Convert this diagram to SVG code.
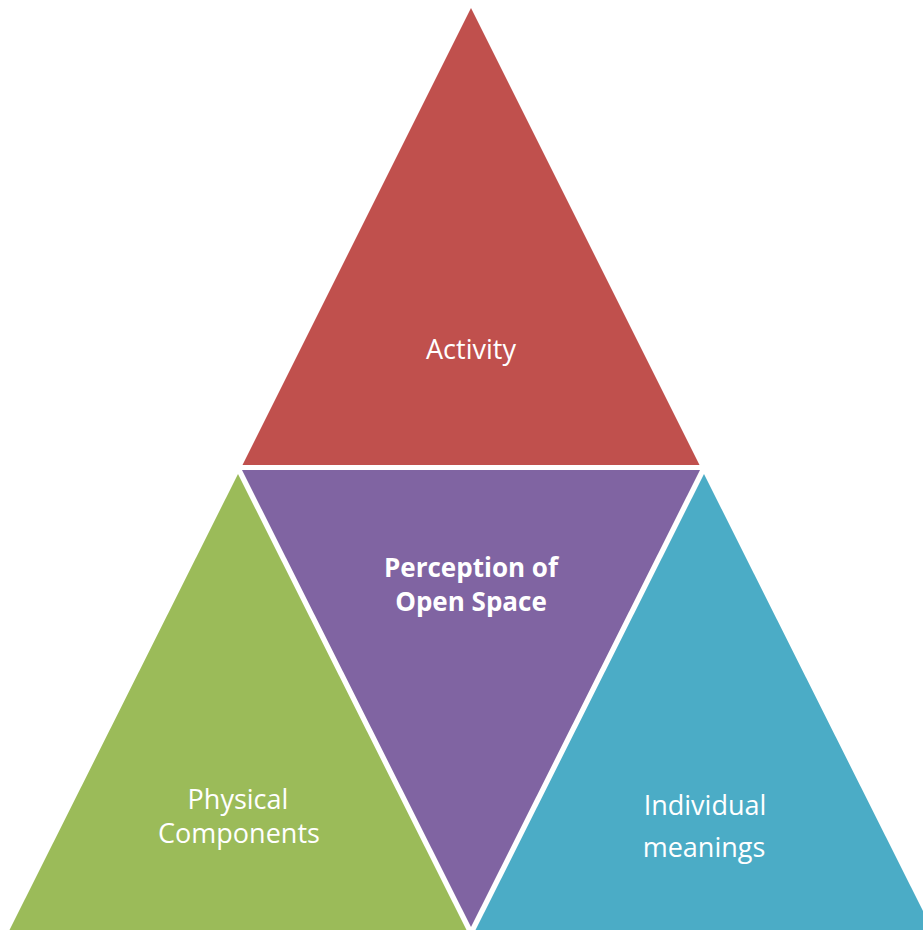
<svg xmlns="http://www.w3.org/2000/svg" width="923" height="933" viewBox="0 0 923 933">
<style>
.lbl{font-family:"Open Sans","Liberation Sans",sans-serif;font-size:27px;fill:#ffffff;text-anchor:middle}
.b{font-weight:bold;font-size:26px}
</style>
<rect width="923" height="933" fill="#ffffff"/>
<g id="activity">
<polygon points="471,8 699.5,465 242.5,465" fill="#C0504D"/>
<text class="lbl" x="471" y="359">Activity</text>
</g>
<g id="perception">
<polygon points="242,470 700,470 471,927" fill="#8064A2"/>
<text class="lbl b" x="471" y="577">Perception of</text>
<text class="lbl b" x="471" y="611">Open Space</text>
</g>
<g id="physical">
<polygon points="238,474 466.5,930 9.5,930" fill="#9BBB59"/>
<text class="lbl" x="238" y="809">Physical</text>
<text class="lbl" x="239" y="843">Components</text>
</g>
<g id="individual">
<polygon points="704,474 932.5,930 475.5,930" fill="#4BACC6"/>
<text class="lbl" x="705" y="815">Individual</text>
<text class="lbl" x="704" y="857">meanings</text>
</g>
<g id="connectors"/>
</svg>
